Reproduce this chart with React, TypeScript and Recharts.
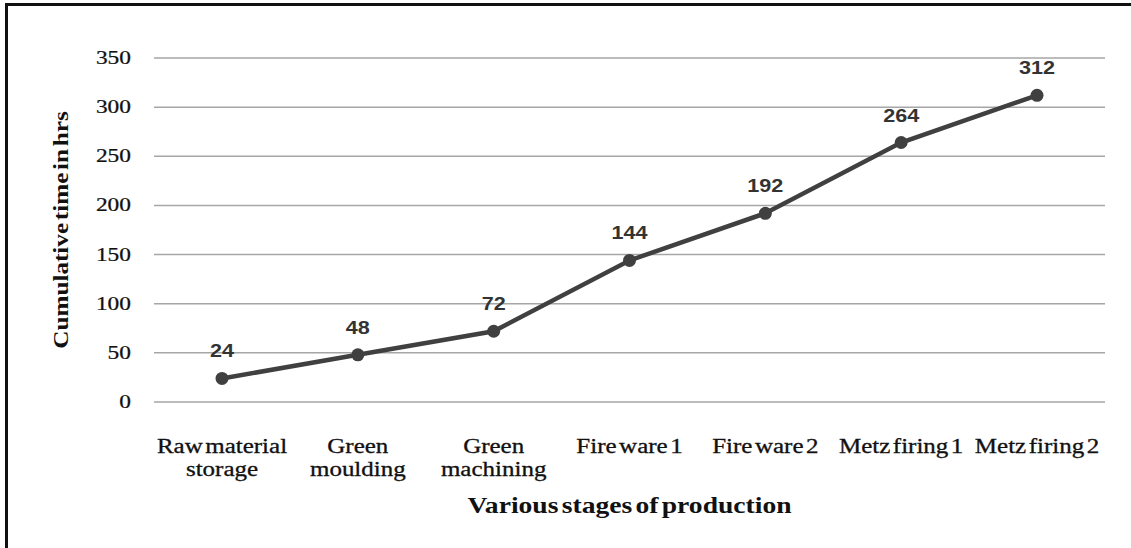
import { LineChart, Line, XAxis, YAxis, CartesianGrid, LabelList, Label } from "recharts";

// Production stages and cumulative hours at the end of each stage
const stages = [
  "Raw material storage",
  "Green moulding",
  "Green machining",
  "Fire ware 1",
  "Fire ware 2",
  "Metz firing 1",
  "Metz firing 2",
];
const stageLines = [
  ["Raw material", "storage"],
  ["Green", "moulding"],
  ["Green", "machining"],
  ["Fire ware 1"],
  ["Fire ware 2"],
  ["Metz firing 1"],
  ["Metz firing 2"],
];
const cumulativeHours = [24, 48, 72, 144, 192, 264, 312];
const yTicks = [0, 50, 100, 150, 200, 250, 300, 350];

const data = stages.map((stage, i) => ({ stage, hours: cumulativeHours[i] }));

const SERIF = "'Liberation Serif', 'Times New Roman', serif";
const SANS = "'Liberation Sans', Arial, sans-serif";
const STRETCH = 1.2;

function YTick(props: any) {
  const { x, y, payload } = props;
  return (
    <text
      transform={`translate(${x},${y + 6}) scale(${STRETCH},1)`}
      textAnchor="end"
      fontFamily={SERIF}
      fontSize={19.5}
      fill="#111"
      stroke="#111"
      strokeWidth={0.25}
    >
      {payload.value}
    </text>
  );
}

function XTick(props: any) {
  const { x, y, index } = props;
  const lines = stageLines[index] ?? [];
  return (
    <g transform={`translate(${x},${y}) scale(${STRETCH + 0.05},1)`}>
      {lines.map((line, i) => (
        <text
          key={i}
          x={0}
          y={43 + i * 23}
          textAnchor="middle"
          fontFamily={SERIF}
          fontSize={20}
          fill="#111"
          stroke="#111"
          strokeWidth={0.3}
          wordSpacing={-3}
        >
          {line}
        </text>
      ))}
    </g>
  );
}

function ValueLabel(props: any) {
  const { x, y, value } = props;
  return (
    <text
      transform={`translate(${x},${y - 21}) scale(${STRETCH},1)`}
      textAnchor="middle"
      fontFamily={SANS}
      fontWeight="bold"
      fontSize={18}
      fill="#333"
    >
      {value}
    </text>
  );
}

function XTitle(props: any) {
  const { viewBox } = props;
  const cx = viewBox.x + viewBox.width / 2;
  return (
    <text
      transform={`translate(${cx},${viewBox.y + 111}) scale(${STRETCH},1)`}
      textAnchor="middle"
      fontFamily={SERIF}
      fontWeight="bold"
      fontSize={23}
      fill="#111"
      wordSpacing={-3}
    >
      Various stages of production
    </text>
  );
}

function YTitle(props: any) {
  const { viewBox } = props;
  const cy = viewBox.y + viewBox.height / 2;
  return (
    <text
      transform={`translate(68,${cy}) rotate(-90) scale(${STRETCH},1)`}
      textAnchor="middle"
      fontFamily={SERIF}
      fontWeight="bold"
      fontSize={21}
      fill="#111"
      wordSpacing={-3}
    >
      Cumulative time in hrs
    </text>
  );
}

export default function App() {
  return (
    <div style={{ position: "absolute", left: 0, top: 0, width: 1131, height: 548, background: "#fff" }}>
      <div
        style={{
          position: "absolute",
          left: 5,
          top: 3,
          width: 1125,
          height: 545,
          borderTop: "3px solid #111",
          borderLeft: "3px solid #111",
        }}
      />
      <LineChart width={1131} height={548} data={data} margin={{ top: 58, right: 26, bottom: 0, left: 0 }}>
        <CartesianGrid vertical={false} stroke="#a6a6a6" strokeWidth={1.5} />
        <XAxis
          dataKey="stage"
          height={146}
          axisLine={false}
          tickLine={false}
          padding={{ left: 68, right: 68 }}
          interval={0}
          tick={<XTick />}
        >
          <Label content={<XTitle />} />
        </XAxis>
        <YAxis
          width={154}
          domain={[0, 350]}
          ticks={yTicks}
          axisLine={false}
          tickLine={false}
          tickMargin={17}
          tick={<YTick />}
        >
          <Label content={<YTitle />} />
        </YAxis>
        <Line
          type="linear"
          dataKey="hours"
          stroke="#404040"
          strokeWidth={4.5}
          dot={{ r: 6.5, fill: "#404040", stroke: "#404040", strokeWidth: 0 }}
          isAnimationActive={false}
        >
          <LabelList dataKey="hours" content={<ValueLabel />} />
        </Line>
      </LineChart>
    </div>
  );
}
